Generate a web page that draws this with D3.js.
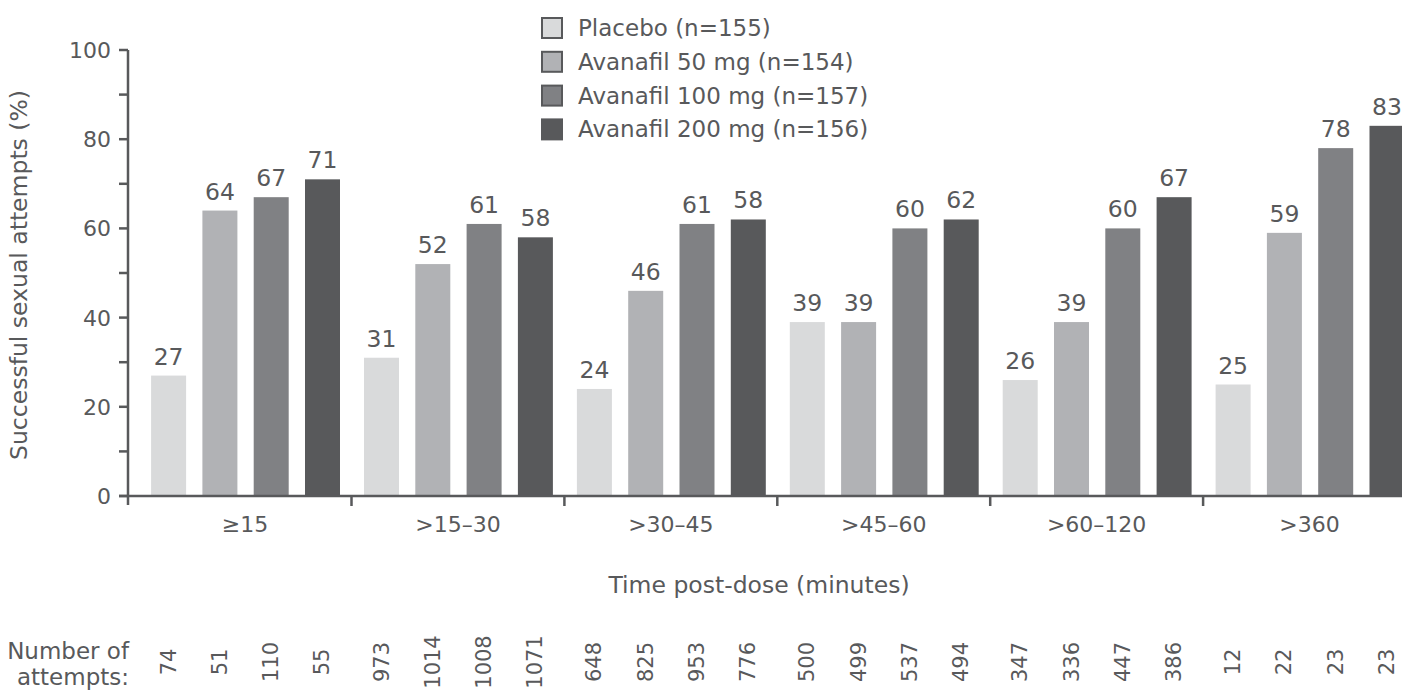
<!DOCTYPE html>
<html>
<head>
<meta charset="utf-8">
<script src="https://cdn.jsdelivr.net/npm/d3@7"></script>
<style>
  html, body { margin: 0; padding: 0; background: #fff; }
  svg { display: block; font-family: "DejaVu Sans", sans-serif; }
</style>
</head>
<body>
<svg id="chart" width="1402" height="693"></svg>
<script>
// ---- Data ----
const categories = ["≥15", ">15–30", ">30–45", ">45–60", ">60–120", ">360"];
const seriesNames = ["Placebo (n=155)", "Avanafil 50 mg (n=154)", "Avanafil 100 mg (n=157)", "Avanafil 200 mg (n=156)"];
const placebo = [27, 31, 24, 39, 26, 25];
const avanafil50 = [64, 52, 46, 39, 39, 59];
const avanafil100 = [67, 61, 61, 60, 60, 78];
const avanafil200 = [71, 58, 62, 62, 67, 83];
// printed labels (as shown in the source figure)
const labelsPlacebo = [27, 31, 24, 39, 26, 25];
const labels50 = [64, 52, 46, 39, 39, 59];
const labels100 = [67, 61, 61, 60, 60, 78];
const labels200 = [71, 58, 58, 62, 67, 83];
const attemptsPlacebo = [74, 973, 648, 500, 347, 12];
const attempts50 = [51, 1014, 825, 499, 336, 22];
const attempts100 = [110, 1008, 953, 537, 447, 23];
const attempts200 = [55, 1071, 776, 494, 386, 23];
const yTicks = [0, 20, 40, 60, 80, 100];
const yMinorTicks = [0, 10, 20, 30, 40, 50, 60, 70, 80, 90, 100];

const colors = ["#d9dadb", "#b1b2b5", "#808184", "#58595b"];
const textColor = "#58595b";
const axisColor = "#58595b";

const seriesValues = [placebo, avanafil50, avanafil100, avanafil200];
const seriesLabels = [labelsPlacebo, labels50, labels100, labels200];
const seriesAttempts = [attemptsPlacebo, attempts50, attempts100, attempts200];

const svg = d3.select("#chart");

// ---- Scales ----
const axisX = 128;
const y = d3.scaleLinear().domain([0, 100]).range([496, 50]);
const step = 212.9;
const x0 = d3.scaleBand().domain(categories).range([axisX + 10.6, axisX + 10.6 + step * categories.length]).padding(0);
const x1 = d3.scaleBand().domain(d3.range(seriesNames.length)).range([12.5, 201.4]).paddingInner(0.3177).paddingOuter(0);

const fontSize = 22;

// ---- Bars ----
categories.forEach((cat, ci) => {
  seriesValues.forEach((vals, si) => {
    const g = svg.append("g");
    const bx = x0(cat) + x1(si);
    g.append("rect")
      .attr("x", bx)
      .attr("y", y(vals[ci]))
      .attr("width", x1.bandwidth())
      .attr("height", y(0) - y(vals[ci]))
      .attr("fill", colors[si]);
    g.append("text")
      .attr("x", bx + x1.bandwidth() / 2)
      .attr("y", y(vals[ci]) - 11)
      .attr("text-anchor", "middle")
      .attr("font-size", 23.5)
      .attr("fill", textColor)
      .text(seriesLabels[si][ci]);
    // attempts count, rotated
    const cx = bx + x1.bandwidth() / 2;
    svg.append("text")
      .attr("transform", `translate(${cx + 7},662) rotate(-90)`)
      .attr("text-anchor", "middle")
      .attr("font-size", 21)
      .attr("fill", textColor)
      .text(seriesAttempts[si][ci]);
  });
});

// ---- Y axis ----
const yAxisG = svg.append("g").attr("transform", `translate(${axisX},0)`);
yAxisG.append("line")
  .attr("x1", 0).attr("x2", 0)
  .attr("y1", y(100)).attr("y2", y(0) + 9)
  .attr("stroke", axisColor).attr("stroke-width", 2.5);
yAxisG.selectAll("line.tick")
  .data(yMinorTicks)
  .join("line")
  .attr("class", "tick")
  .attr("x1", -9).attr("x2", 0)
  .attr("y1", d => y(d)).attr("y2", d => y(d))
  .attr("stroke", axisColor).attr("stroke-width", 2.5);
yAxisG.selectAll("text.tl")
  .data(yTicks)
  .join("text")
  .attr("class", "tl")
  .attr("x", -17)
  .attr("y", d => y(d))
  .attr("dy", "0.36em")
  .attr("text-anchor", "end")
  .attr("font-size", fontSize)
  .attr("fill", textColor)
  .text(d => d);

svg.append("text")
  .attr("transform", `translate(27,275) rotate(-90)`)
  .attr("text-anchor", "middle")
  .attr("font-size", 23.5)
  .attr("fill", textColor)
  .text("Successful sexual attempts (%)");

// ---- X axis ----
const xAxisG = svg.append("g");
xAxisG.append("line")
  .attr("x1", axisX - 9).attr("x2", 1402)
  .attr("y1", y(0)).attr("y2", y(0))
  .attr("stroke", axisColor).attr("stroke-width", 2.5);
xAxisG.selectAll("line.ct")
  .data(categories.slice(1).concat(["__end"]))
  .join("line")
  .attr("class", "ct")
  .attr("x1", d => d === "__end" ? x0.range()[1] : x0(d))
  .attr("x2", d => d === "__end" ? x0.range()[1] : x0(d))
  .attr("y1", y(0)).attr("y2", y(0) + 10)
  .attr("stroke", axisColor).attr("stroke-width", 2.5);
xAxisG.selectAll("text.cl")
  .data(categories)
  .join("text")
  .attr("class", "cl")
  .attr("x", d => x0(d) + x0.bandwidth() / 2)
  .attr("y", 532)
  .attr("text-anchor", "middle")
  .attr("font-size", fontSize)
  .attr("fill", textColor)
  .text(d => d);

svg.append("text")
  .attr("x", 759)
  .attr("y", 593)
  .attr("text-anchor", "middle")
  .attr("font-size", 23.5)
  .attr("fill", textColor)
  .text("Time post-dose (minutes)");

svg.append("text")
  .attr("x", 129).attr("y", 659)
  .attr("text-anchor", "end")
  .attr("font-size", 23)
  .attr("fill", textColor)
  .text("Number of");
svg.append("text")
  .attr("x", 129).attr("y", 685)
  .attr("text-anchor", "end")
  .attr("font-size", 23)
  .attr("fill", textColor)
  .text("attempts:");

// ---- Legend ----
const legend = svg.append("g");
seriesNames.forEach((name, i) => {
  const ly = 17 + i * 33.8;
  const solid = i === seriesNames.length - 1;
  legend.append("rect")
    .attr("x", solid ? 541 : 542)
    .attr("y", solid ? ly : ly + 1)
    .attr("width", solid ? 22 : 20)
    .attr("height", solid ? 22 : 20)
    .attr("fill", colors[i])
    .attr("stroke", solid ? "none" : axisColor)
    .attr("stroke-width", 2);
  legend.append("text")
    .attr("x", 578)
    .attr("y", ly + 19)
    .attr("font-size", 23)
    .attr("fill", textColor)
    .text(name);
});
</script>
</body>
</html>
